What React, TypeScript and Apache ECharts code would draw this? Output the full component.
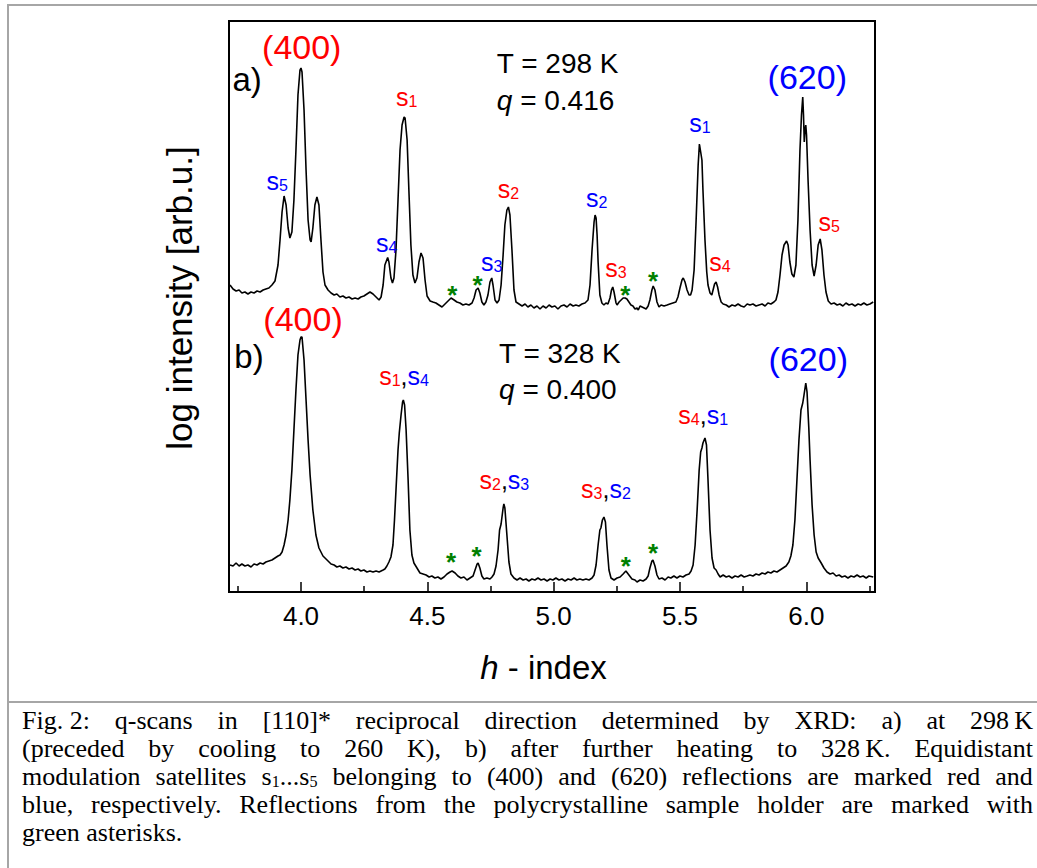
import React, { useEffect, useRef } from 'react';
import * as echarts from 'echarts';

// ---------- axis ranges ----------
const H_MIN = 3.715;
const H_MAX = 6.272;
const I_MIN = 0;
const I_MAX = 114.2;

// ---------- ticks ----------
const MAJOR_TICKS = [4.0, 4.5, 5.0, 5.5, 6.0];
const TICK_LABELS = ['4.0', '4.5', '5.0', '5.5', '6.0'];
const MINOR_TICKS = [3.75, 4.25, 4.75, 5.25, 5.75, 6.25];

// ---------- scan a) T = 298 K : [h, log intensity (arb.u.)] ----------
const SCAN_A: [number, number][] = [
  [3.719, 61.4], [3.731, 60.6], [3.743, 60.2], [3.755, 60.4], [3.766, 59.8], [3.778, 60.0], [3.790, 59.6], [3.802, 60.0],
  [3.814, 59.8], [3.826, 60.2], [3.838, 60.0], [3.850, 60.4], [3.861, 60.6], [3.873, 60.8], [3.885, 61.4], [3.897, 62.2],
  [3.909, 65.4], [3.917, 70.4], [3.925, 76.0], [3.933, 79.2], [3.941, 77.4], [3.949, 72.8], [3.956, 70.8], [3.964, 72.0],
  [3.972, 78.4], [3.980, 88.4], [3.988, 99.4], [3.996, 104.4], [4.000, 104.8], [4.004, 104.0], [4.012, 96.4], [4.020, 84.4],
  [4.028, 74.4], [4.036, 70.4], [4.040, 70.0], [4.047, 72.8], [4.055, 77.4], [4.063, 79.0], [4.071, 77.4], [4.079, 70.4],
  [4.087, 64.0], [4.095, 61.4], [4.107, 60.4], [4.119, 59.8], [4.131, 59.4], [4.142, 59.6], [4.154, 59.0], [4.166, 59.2],
  [4.178, 58.8], [4.190, 59.0], [4.202, 58.6], [4.214, 58.8], [4.226, 58.6], [4.237, 59.0], [4.249, 59.2], [4.261, 59.6],
  [4.273, 60.0], [4.285, 59.6], [4.297, 59.0], [4.309, 58.4], [4.317, 59.0], [4.325, 61.4], [4.332, 65.4], [4.343, 66.9],
  [4.348, 66.0], [4.356, 62.8], [4.362, 61.8], [4.368, 62.8], [4.376, 68.4], [4.384, 78.4], [4.392, 88.4], [4.400, 93.4],
  [4.408, 95.0], [4.412, 94.8], [4.420, 90.4], [4.427, 80.4], [4.435, 69.4], [4.443, 63.4], [4.451, 61.8], [4.459, 62.8],
  [4.467, 66.0], [4.475, 67.8], [4.483, 66.8], [4.491, 62.4], [4.499, 59.2], [4.511, 58.2], [4.522, 58.0], [4.534, 57.8],
  [4.546, 57.4], [4.558, 57.0], [4.570, 57.6], [4.582, 58.2], [4.594, 58.8], [4.606, 58.4], [4.617, 58.0], [4.629, 57.8],
  [4.641, 57.4], [4.653, 57.6], [4.665, 57.4], [4.677, 57.8], [4.685, 58.8], [4.693, 60.4], [4.701, 60.8], [4.708, 59.8],
  [4.716, 58.0], [4.724, 57.4], [4.732, 58.0], [4.740, 59.4], [4.748, 62.0], [4.755, 62.8], [4.760, 61.4], [4.768, 58.4],
  [4.776, 57.8], [4.784, 58.4], [4.792, 61.4], [4.800, 67.4], [4.807, 73.4], [4.815, 76.4], [4.821, 77.0], [4.827, 75.4],
  [4.835, 68.4], [4.843, 60.4], [4.851, 58.0], [4.863, 57.6], [4.875, 57.2], [4.887, 57.6], [4.898, 57.0], [4.910, 57.4],
  [4.922, 56.8], [4.934, 57.2], [4.946, 56.6], [4.958, 57.2], [4.970, 56.8], [4.982, 57.4], [4.993, 57.0], [5.005, 57.2],
  [5.017, 56.6], [5.029, 57.2], [5.041, 57.4], [5.053, 57.0], [5.065, 57.6], [5.077, 57.2], [5.088, 57.4], [5.100, 57.2],
  [5.112, 57.6], [5.124, 57.8], [5.136, 58.4], [5.144, 61.4], [5.152, 68.4], [5.160, 74.0], [5.164, 75.4], [5.168, 74.8],
  [5.172, 71.4], [5.176, 66.0], [5.183, 59.4], [5.191, 57.8], [5.199, 57.4], [5.207, 57.8], [5.215, 57.6], [5.223, 58.8],
  [5.229, 60.4], [5.234, 61.0], [5.239, 60.0], [5.247, 57.8], [5.251, 57.4], [5.259, 58.0], [5.267, 58.4], [5.275, 58.8],
  [5.283, 58.8], [5.290, 58.6], [5.298, 58.0], [5.306, 57.4], [5.314, 57.2], [5.322, 56.6], [5.330, 56.8], [5.335, 56.4],
  [5.342, 57.2], [5.350, 57.0], [5.358, 56.8], [5.366, 56.6], [5.374, 57.2], [5.381, 58.4], [5.389, 60.4], [5.394, 61.2],
  [5.401, 60.4], [5.409, 58.0], [5.417, 57.0], [5.425, 57.4], [5.437, 57.2], [5.449, 57.4], [5.460, 57.6], [5.472, 57.8],
  [5.484, 58.0], [5.492, 59.0], [5.500, 60.8], [5.508, 62.4], [5.513, 62.8], [5.520, 62.0], [5.528, 60.4], [5.536, 59.4],
  [5.542, 59.4], [5.548, 60.4], [5.556, 64.4], [5.564, 74.4], [5.572, 85.4], [5.577, 89.6], [5.582, 88.0], [5.587, 86.4],
  [5.591, 80.4], [5.599, 70.4], [5.606, 64.0], [5.611, 61.4], [5.619, 59.8], [5.626, 59.4], [5.631, 60.4], [5.637, 61.6],
  [5.643, 62.0], [5.649, 61.0], [5.655, 59.4], [5.663, 58.0], [5.671, 57.6], [5.683, 57.4], [5.694, 57.0], [5.706, 57.4],
  [5.718, 57.2], [5.730, 57.6], [5.742, 57.2], [5.754, 57.0], [5.766, 57.6], [5.777, 57.4], [5.789, 57.6], [5.801, 57.2],
  [5.813, 57.4], [5.825, 57.6], [5.837, 57.2], [5.848, 57.8], [5.860, 57.6], [5.872, 58.0], [5.880, 58.4], [5.888, 60.0],
  [5.896, 63.4], [5.904, 67.4], [5.912, 69.4], [5.922, 70.2], [5.928, 69.4], [5.935, 66.0], [5.943, 63.6], [5.951, 63.0],
  [5.959, 65.4], [5.967, 74.4], [5.975, 88.4], [5.981, 95.4], [5.986, 99.0], [5.989, 95.4], [5.992, 90.0], [5.995, 92.4],
  [5.998, 93.4], [6.001, 91.4], [6.007, 82.4], [6.015, 72.4], [6.023, 65.4], [6.031, 63.2], [6.039, 65.4], [6.047, 69.4],
  [6.055, 70.6], [6.062, 68.4], [6.070, 63.4], [6.078, 60.0], [6.087, 58.2], [6.098, 57.6], [6.110, 57.8], [6.122, 57.4],
  [6.133, 57.6], [6.145, 57.2], [6.157, 57.8], [6.169, 57.4], [6.181, 57.6], [6.193, 57.2], [6.205, 57.6], [6.216, 57.4],
  [6.228, 57.8], [6.240, 57.4], [6.252, 57.6], [6.265, 58.0],
];

// ---------- scan b) T = 328 K ----------
const SCAN_B: [number, number][] = [
  [3.719, 5.4], [3.731, 5.2], [3.743, 5.8], [3.755, 5.2], [3.766, 5.6], [3.778, 5.2], [3.790, 5.4], [3.802, 5.0],
  [3.814, 5.6], [3.826, 5.4], [3.838, 5.8], [3.850, 5.6], [3.861, 6.0], [3.873, 6.2], [3.885, 6.4], [3.897, 6.8],
  [3.909, 7.2], [3.917, 7.4], [3.925, 8.0], [3.933, 9.4], [3.941, 11.4], [3.949, 14.4], [3.956, 18.4], [3.964, 24.4],
  [3.972, 32.4], [3.980, 40.4], [3.988, 47.4], [3.996, 50.4], [4.000, 51.0], [4.004, 51.0], [4.012, 46.4], [4.020, 38.4],
  [4.028, 30.4], [4.036, 23.4], [4.047, 16.4], [4.059, 11.4], [4.071, 8.8], [4.087, 7.2], [4.107, 6.2], [4.119, 5.6],
  [4.131, 5.4], [4.142, 5.0], [4.154, 5.2], [4.166, 4.8], [4.178, 5.0], [4.190, 4.6], [4.202, 4.8], [4.214, 4.4],
  [4.226, 4.6], [4.237, 4.2], [4.249, 4.4], [4.261, 4.0], [4.273, 4.2], [4.285, 4.0], [4.297, 4.2], [4.309, 4.0],
  [4.317, 4.2], [4.325, 4.4], [4.332, 4.6], [4.340, 5.2], [4.348, 6.0], [4.356, 7.0], [4.364, 9.4], [4.370, 14.4],
  [4.376, 20.4], [4.384, 28.4], [4.389, 31.8], [4.396, 35.4], [4.402, 38.0], [4.405, 38.4], [4.410, 37.4], [4.416, 32.4],
  [4.424, 22.4], [4.431, 12.4], [4.439, 7.4], [4.447, 5.8], [4.459, 4.8], [4.471, 3.8], [4.483, 3.6], [4.495, 3.4],
  [4.507, 3.0], [4.518, 3.2], [4.530, 2.8], [4.542, 3.0], [4.554, 2.6], [4.566, 3.0], [4.578, 3.6], [4.590, 4.0],
  [4.598, 4.2], [4.610, 3.8], [4.621, 3.2], [4.633, 2.8], [4.645, 3.0], [4.657, 2.4], [4.669, 2.8], [4.681, 3.2],
  [4.689, 4.4], [4.697, 5.6], [4.701, 5.8], [4.708, 4.8], [4.716, 3.2], [4.724, 2.6], [4.736, 2.8], [4.748, 2.6],
  [4.756, 3.0], [4.764, 3.6], [4.772, 5.2], [4.780, 8.4], [4.786, 12.4], [4.792, 13.6], [4.800, 16.8], [4.803, 17.6],
  [4.807, 16.8], [4.815, 11.4], [4.823, 6.0], [4.831, 3.6], [4.843, 2.8], [4.855, 2.4], [4.867, 2.8], [4.879, 2.4],
  [4.891, 2.6], [4.902, 2.2], [4.914, 2.6], [4.926, 2.4], [4.938, 2.8], [4.950, 2.4], [4.962, 2.6], [4.974, 2.2],
  [4.986, 2.6], [4.997, 2.4], [5.009, 2.8], [5.021, 2.4], [5.033, 2.6], [5.045, 2.2], [5.057, 2.6], [5.069, 2.4],
  [5.081, 2.8], [5.092, 2.4], [5.104, 2.6], [5.116, 2.4], [5.128, 2.6], [5.140, 2.4], [5.152, 2.8], [5.160, 3.4],
  [5.168, 5.4], [5.176, 9.4], [5.183, 12.4], [5.187, 12.8], [5.193, 14.4], [5.199, 15.0], [5.205, 14.0], [5.211, 9.4],
  [5.219, 4.4], [5.227, 2.8], [5.239, 2.4], [5.251, 2.8], [5.263, 3.0], [5.275, 3.6], [5.286, 4.2], [5.298, 3.4],
  [5.310, 2.6], [5.322, 2.4], [5.330, 2.0], [5.342, 2.4], [5.354, 2.2], [5.366, 2.6], [5.374, 3.2], [5.381, 4.8],
  [5.389, 6.2], [5.393, 6.4], [5.401, 5.2], [5.409, 3.4], [5.417, 2.6], [5.429, 2.8], [5.441, 2.4], [5.453, 3.0],
  [5.464, 2.8], [5.476, 3.2], [5.488, 2.8], [5.500, 3.2], [5.512, 3.0], [5.524, 3.4], [5.536, 3.6], [5.544, 4.2],
  [5.552, 5.4], [5.560, 9.4], [5.568, 16.4], [5.576, 24.4], [5.582, 28.0], [5.587, 28.8], [5.591, 29.8], [5.599, 30.8],
  [5.605, 29.4], [5.611, 22.4], [5.619, 12.4], [5.627, 6.8], [5.635, 4.8], [5.643, 4.4], [5.651, 3.6], [5.659, 3.0],
  [5.671, 3.4], [5.683, 3.0], [5.694, 3.2], [5.706, 2.8], [5.718, 3.2], [5.730, 3.0], [5.742, 3.4], [5.754, 3.0],
  [5.766, 3.2], [5.777, 3.4], [5.789, 3.2], [5.801, 3.6], [5.813, 3.4], [5.825, 3.8], [5.837, 3.6], [5.848, 4.0],
  [5.860, 3.8], [5.872, 4.2], [5.884, 4.0], [5.896, 4.4], [5.908, 4.8], [5.920, 5.2], [5.931, 6.0], [5.939, 7.2],
  [5.947, 9.4], [5.955, 14.4], [5.963, 22.4], [5.971, 30.4], [5.979, 36.4], [5.986, 37.8], [5.991, 39.4], [5.998, 41.8],
  [6.003, 40.0], [6.010, 32.8], [6.015, 26.4], [6.023, 17.4], [6.031, 11.4], [6.039, 8.0], [6.047, 6.8], [6.059, 5.8],
  [6.070, 4.8], [6.082, 4.0], [6.094, 3.6], [6.106, 3.8], [6.118, 3.2], [6.130, 3.4], [6.141, 3.0], [6.153, 3.2],
  [6.165, 2.8], [6.177, 3.2], [6.189, 3.0], [6.201, 3.4], [6.213, 3.0], [6.225, 3.2], [6.237, 2.8], [6.248, 3.2],
  [6.265, 3.0],
];

// ---------- annotations: [text, kind, h, intensity] ----------
// sat text: r = red (400) satellite, b = blue (620) satellite, digit = order
const NOTES_A: [string, string, number, number][] = [
  ['(400)', 'hkl400', 4.003, 109.1],
  ['a)', 'panel', 3.787, 102.5],
  ['(620)', 'hkl620', 6.004, 103.1],
  ['T = 298 K', 'temp', 4.775, 105.7],
  ['q = 0.416', 'temp', 4.775, 98.4],
  ['b5', 'sat', 3.906, 81.9],
  ['b4', 'sat', 4.339, 69.5],
  ['r1', 'sat', 4.418, 98.6],
  ['b3', 'sat', 4.755, 65.7],
  ['r2', 'sat', 4.821, 80.3],
  ['b2', 'sat', 5.170, 78.4],
  ['r3', 'sat', 5.247, 64.5],
  ['b1', 'sat', 5.579, 93.4],
  ['r4', 'sat', 5.658, 65.7],
  ['r5', 'sat', 6.091, 73.6],
  ['*', 'star', 4.599, 60.7],
  ['*', 'star', 4.699, 62.7],
  ['*', 'star', 5.284, 60.7],
  ['*', 'star', 5.394, 63.4],
];
const NOTES_B: [string, string, number, number][] = [
  ['(400)', 'hkl400', 4.008, 54.7],
  ['b)', 'panel', 3.794, 47.1],
  ['(620)', 'hkl620', 6.008, 46.7],
  ['T = 328 K', 'temp', 4.784, 47.7],
  ['q = 0.400', 'temp', 4.784, 40.5],
  ['r1,b4', 'sat', 4.408, 42.9],
  ['r2,b3', 'sat', 4.805, 22.1],
  ['r3,b2', 'sat', 5.207, 20.3],
  ['r4,b1', 'sat', 5.592, 35.1],
  ['*', 'star', 4.594, 7.2],
  ['*', 'star', 4.695, 8.5],
  ['*', 'star', 5.286, 6.4],
  ['*', 'star', 5.394, 9.1],
];

const CAPTION_LINES: string[][] = [
  ['Fig. 2:', 'q-scans', 'in', '[110]*', 'reciprocal', 'direction', 'determined', 'by', 'XRD:', 'a)', 'at', '298\u2009K'],
  ['(preceded', 'by', 'cooling', 'to', '260', 'K),', 'b)', 'after', 'further', 'heating', 'to', '328\u2009K.', 'Equidistant'],
  ['modulation', 'satellites', 's_1...s_5', 'belonging', 'to', '(400)', 'and', '(620)', 'reflections', 'are', 'marked', 'red', 'and'],
  ['blue,', 'respectively.', 'Reflections', 'from', 'the', 'polycrystalline', 'sample', 'holder', 'are', 'marked', 'with'],
  ['green asterisks.'],
];

const SANS = '"Liberation Sans", Arial, sans-serif';
const SERIF = '"Liberation Serif", "Times New Roman", serif';
const RED = '#ff0000';
const BLUE = '#0000ff';
const GREEN = '#008000';
const FRAME_GRAY = '#a6a6a6';

function satRich(code: string) {
  return code
    .split(',')
    .map((p) => `{${p[0]}s|s}{${p[0]}n|${p.slice(1)}}`)
    .join('{cm|,}');
}

function noteLabel(text: string, kind: string): any {
  switch (kind) {
    case 'hkl400':
      return { formatter: `{hr|${text}}` };
    case 'hkl620':
      return { formatter: `{hb|${text}}` };
    case 'panel':
      return { formatter: `{pn|${text}}` };
    case 'temp':
      return {
        align: 'left',
        formatter: text.startsWith('q') ? `{qi|q}{tx|${text.slice(1)}}` : `{tx|${text}}`,
      };
    case 'sat':
      return { formatter: satRich(text), offset: [0, -2] };
    case 'star':
      return { formatter: '{st|*}', offset: [0, 6] };
    default:
      return { formatter: text };
  }
}

const RICH: any = {
  rs: { color: RED, fontSize: 25, lineHeight: 25, verticalAlign: 'bottom', fontFamily: SANS, opacity: 1 },
  rn: { color: RED, fontSize: 16, lineHeight: 16, verticalAlign: 'bottom', fontFamily: SANS, opacity: 1 },
  bs: { color: BLUE, fontSize: 25, lineHeight: 25, verticalAlign: 'bottom', fontFamily: SANS, opacity: 1 },
  bn: { color: BLUE, fontSize: 16, lineHeight: 16, verticalAlign: 'bottom', fontFamily: SANS, opacity: 1 },
  cm: { color: '#000', fontSize: 25, lineHeight: 25, verticalAlign: 'bottom', fontFamily: SANS, opacity: 1 },
  hr: { color: RED, fontSize: 34, fontFamily: SANS, opacity: 1 },
  hb: { color: BLUE, fontSize: 34, fontFamily: SANS, opacity: 1 },
  pn: { color: '#000', fontSize: 33, fontFamily: SANS, opacity: 1 },
  tx: { color: '#000', fontSize: 28, fontFamily: SANS, opacity: 1 },
  qi: { color: '#000', fontSize: 28, fontStyle: 'italic', fontFamily: SANS, opacity: 1 },
  st: { color: GREEN, fontSize: 26, fontWeight: 'bold', fontFamily: SANS, opacity: 1 },
};

function buildOption(): any {
  const notes = [...NOTES_A, ...NOTES_B].map(([text, kind, h, v]) => ({
    value: [h, v],
    label: noteLabel(text, kind),
  }));
  const tickLabel = (v: number) => {
    const i = MAJOR_TICKS.findIndex((t) => Math.abs(t - v) < 1e-6);
    return i >= 0 ? TICK_LABELS[i] : '';
  };
  return {
    animation: false,
    grid: {
      left: 229,
      top: 21,
      width: 646,
      height: 571,
      show: true,
      borderColor: '#000',
      borderWidth: 2,
      backgroundColor: 'transparent',
    },
    xAxis: [
      {
        type: 'value',
        min: H_MIN,
        max: H_MAX,
        position: 'bottom',
        axisLine: { show: false },
        splitLine: { show: false },
        axisTick: { show: true, inside: true, length: 10, customValues: MAJOR_TICKS, lineStyle: { color: '#000', width: 1.5 } },
        axisLabel: {
          show: true,
          customValues: MAJOR_TICKS,
          formatter: tickLabel,
          fontSize: 26,
          color: '#000',
          fontFamily: SANS,
          margin: 11,
        },
      },
      {
        type: 'value',
        min: H_MIN,
        max: H_MAX,
        position: 'bottom',
        axisLine: { show: false },
        splitLine: { show: false },
        axisTick: { show: true, inside: true, length: 6, customValues: MINOR_TICKS, lineStyle: { color: '#000', width: 1.5 } },
        axisLabel: { show: false },
      },
    ],
    yAxis: { type: 'value', min: I_MIN, max: I_MAX, show: false },
    graphic: [
      {
        type: 'text',
        x: 179,
        y: 298,
        rotation: Math.PI / 2,
        style: {
          text: 'log intensity [arb.u.]',
          fontSize: 35,
          fontFamily: SANS,
          fill: '#000',
          align: 'center',
          verticalAlign: 'middle',
        },
      },
      {
        type: 'text',
        x: 543.5,
        y: 667,
        style: {
          text: '{i|h}{n| - index}',
          align: 'center',
          verticalAlign: 'middle',
          rich: {
            i: { fontSize: 33, fontStyle: 'italic', fontFamily: SANS, fill: '#000' },
            n: { fontSize: 33, fontFamily: SANS, fill: '#000' },
          },
        },
      },
    ],
    series: [
      {
        name: 'a) 298 K',
        type: 'line',
        xAxisIndex: 0,
        data: SCAN_A,
        showSymbol: false,
        symbol: 'none',
        silent: true,
        lineStyle: { color: '#000', width: 1.6 },
      },
      {
        name: 'b) 328 K',
        type: 'line',
        xAxisIndex: 0,
        data: SCAN_B,
        showSymbol: false,
        symbol: 'none',
        silent: true,
        lineStyle: { color: '#000', width: 1.6 },
      },
      {
        name: 'notes',
        type: 'scatter',
        xAxisIndex: 0,
        symbolSize: 1,
        silent: true,
        z: 5,
        itemStyle: { color: 'rgba(0,0,0,0)', opacity: 1 },
        label: { show: true, position: 'inside', rich: RICH, opacity: 1 },
        data: notes,
      },
    ],
  };
}

function CaptionWord({ w }: { w: string }) {
  if (w.includes('_')) {
    const parts = w.split(/_(\d)/);
    return (
      <span style={{ whiteSpace: 'pre' }}>
        {parts.map((p, i) =>
          i % 2 === 1 ? (
            <span key={i} style={{ fontSize: '0.62em', verticalAlign: '-2px', lineHeight: 0 }}>
              {p}
            </span>
          ) : (
            <React.Fragment key={i}>{p}</React.Fragment>
          )
        )}
      </span>
    );
  }
  return <span style={{ whiteSpace: 'pre' }}>{w}</span>;
}

function Caption() {
  return (
    <div
      style={{
        position: 'absolute',
        left: 22,
        top: 707.3,
        width: 1011,
        fontFamily: SERIF,
        fontSize: 26,
        color: '#000',
      }}
    >
      {CAPTION_LINES.map((words, li) => {
        const last = li === CAPTION_LINES.length - 1;
        return (
          <div
            key={li}
            style={{
              display: 'flex',
              justifyContent: last ? 'flex-start' : 'space-between',
              height: 27.9,
              lineHeight: '27.9px',
              whiteSpace: 'nowrap',
            }}
          >
            {words.map((w, wi) => (
              <CaptionWord key={wi} w={w} />
            ))}
          </div>
        );
      })}
    </div>
  );
}

export default function App() {
  const ref = useRef<HTMLDivElement>(null);
  useEffect(() => {
    if (!ref.current) return;
    const chart = echarts.init(ref.current, undefined, { renderer: 'svg' });
    chart.setOption(buildOption());
    return () => chart.dispose();
  }, []);
  return (
    <div style={{ position: 'absolute', left: 0, top: 0, width: 1037, height: 868, overflow: 'hidden', background: '#fff' }}>
      <div style={{ position: 'absolute', left: 7, top: 4, width: 1100, height: 2, background: FRAME_GRAY }} />
      <div style={{ position: 'absolute', left: 7, top: 4, width: 2, height: 900, background: FRAME_GRAY }} />
      <div style={{ position: 'absolute', left: 7, top: 701, width: 1100, height: 2, background: FRAME_GRAY }} />
      <div ref={ref} style={{ position: 'absolute', left: 0, top: 0, width: 1037, height: 700 }} />
      <Caption />
    </div>
  );
}
